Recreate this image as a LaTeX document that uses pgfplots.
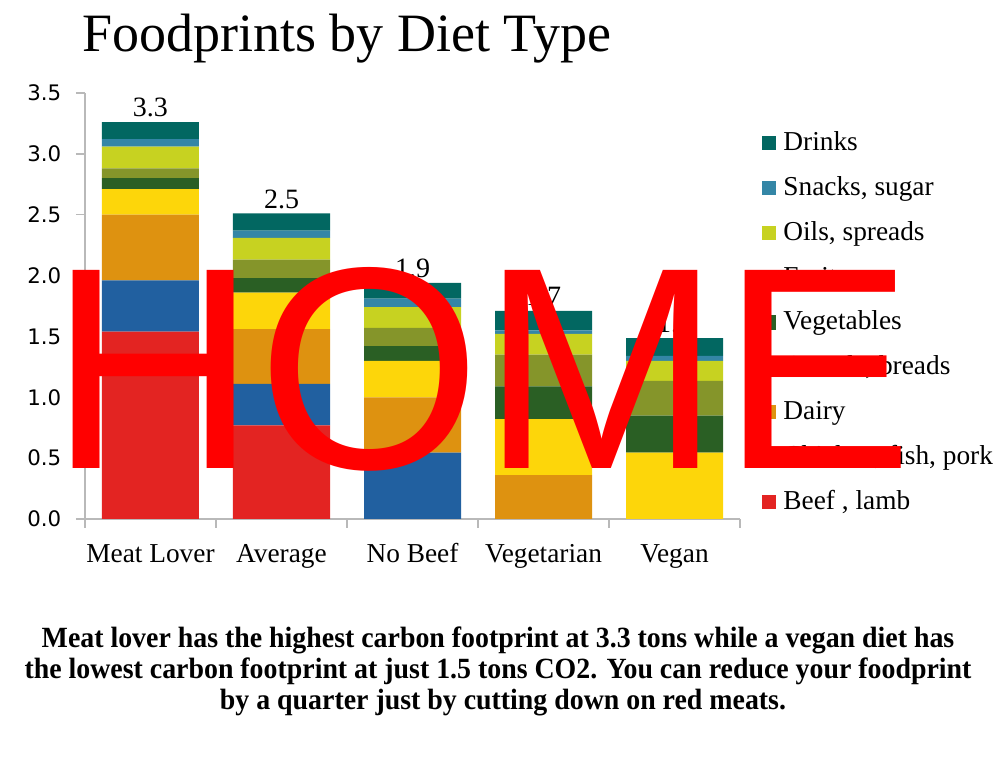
\documentclass[border=0pt]{standalone}
\usepackage{pgfplots}
\pgfplotsset{compat=1.18}
\usepackage{pgfplotstable}
\usepackage{fontspec}
\setmainfont{Liberation Serif}
\newfontfamily\tickfont{DejaVu Sans}
\newfontfamily\homefont{Liberation Sans}
\newfontfamily\capfont[FakeStretch=0.95]{Liberation Serif}

\definecolor{cBeef}{RGB}{227,36,34}
\definecolor{cChicken}{RGB}{33,96,160}
\definecolor{cDairy}{RGB}{222,146,16}
\definecolor{cCereals}{RGB}{253,214,10}
\definecolor{cVeg}{RGB}{42,95,36}
\definecolor{cFruit}{RGB}{133,149,42}
\definecolor{cOils}{RGB}{199,210,33}
\definecolor{cSnacks}{RGB}{52,134,166}
\definecolor{cDrinks}{RGB}{2,103,97}
\definecolor{axisgray}{RGB}{185,185,185}

\pgfplotstableread{
x beef chicken dairy cereals veg fruit oils snacks drinks
0 1.54 0.42 0.54 0.21 0.09 0.08 0.18 0.06 0.14
1 0.77 0.34 0.45 0.30 0.12 0.15 0.18 0.06 0.14
2 0 0.545 0.455 0.30 0.12 0.15 0.17 0.07 0.13
3 0 0 0.36 0.46 0.27 0.26 0.17 0.03 0.16
4 0 0 0 0.545 0.305 0.285 0.165 0.04 0.146
}\diet

\begin{document}
\begin{tikzpicture}
\begin{scope}[x=0.75pt,y=-0.75pt,shift={(-85,-519)}]
\path[use as bounding box] (0,0) rectangle (1000,778);
\end{scope}
\begin{axis}[
  at={(0,0)}, anchor=south west, scale only axis,
  width=491.25pt, height=319.5pt,
  ybar stacked, bar width=72.75pt,
  xmin=-0.5, xmax=4.5, ymin=0, ymax=3.5,
  clip=false,
  axis x line*=bottom, axis y line*=left,
  axis line style={draw=axisgray, line width=1pt},
  tick style={draw=axisgray, line width=1pt},
  tick align=outside, major tick length=6.75pt,
  xtick={-0.5,0.5,1.5,2.5,3.5,4.5}, xticklabels={},
  extra x ticks={0,1,2,3,4},
  extra x tick labels={Meat Lover,Average,No Beef,Vegetarian,Vegan},
  extra x tick style={major tick length=0pt},
  xticklabel style={font=\fontsize{20.5}{24}\selectfont, anchor=base, yshift=-33pt},
  ytick={0,0.5,1,1.5,2,2.5,3,3.5},
  yticklabel style={font=\tickfont\fontsize{16}{18}\selectfont, xshift=-7.5pt,
    /pgf/number format/fixed, /pgf/number format/fixed zerofill,
    /pgf/number format/precision=1},
  /pgf/number format/assume math mode=true,
  reverse legend,
  legend style={draw=none, fill=none, inner sep=0pt, outer sep=0pt,
    at={(axis description cs:1.0331,0.912)}, anchor=north west,
    font=\fontsize{20.5}{24}\selectfont, row sep=13.65pt, column sep=5.8pt,
    nodes={inner sep=0pt, text height=15pt, text depth=5pt}},
  legend cell align=left,
  legend image code/.code={\fill[#1,draw=none] (0pt,-4.7pt) rectangle (10.5pt,6pt);},
]
\addplot[fill=cBeef, draw=none] table[x=x,y=beef]{\diet};
\addlegendentry{Beef , lamb}
\addplot[fill=cChicken, draw=none] table[x=x,y=chicken]{\diet};
\addlegendentry{Chicken, fish, pork}
\addplot[fill=cDairy, draw=none] table[x=x,y=dairy]{\diet};
\addlegendentry{Dairy}
\addplot[fill=cCereals, draw=none] table[x=x,y=cereals]{\diet};
\addlegendentry{Cereals, breads}
\addplot[fill=cVeg, draw=none] table[x=x,y=veg]{\diet};
\addlegendentry{Vegetables}
\addplot[fill=cFruit, draw=none] table[x=x,y=fruit]{\diet};
\addlegendentry{Fruit}
\addplot[fill=cOils, draw=none] table[x=x,y=oils]{\diet};
\addlegendentry{Oils, spreads}
\addplot[fill=cSnacks, draw=none] table[x=x,y=snacks]{\diet};
\addlegendentry{Snacks, sugar}
\addplot[fill=cDrinks, draw=none] table[x=x,y=drinks]{\diet};
\addlegendentry{Drinks}
\node[anchor=base, inner sep=0pt, font=\fontsize{21}{24}\selectfont, yshift=4pt] at (axis cs:0,3.26) {3.3};
\node[anchor=base, inner sep=0pt, font=\fontsize{21}{24}\selectfont, yshift=4pt] at (axis cs:1,2.51) {2.5};
\node[anchor=base, inner sep=0pt, font=\fontsize{21}{24}\selectfont, yshift=4pt] at (axis cs:2,1.94) {1.9};
\node[anchor=base, inner sep=0pt, font=\fontsize{21}{24}\selectfont, yshift=4pt] at (axis cs:3,1.71) {1.7};
\node[anchor=base, inner sep=0pt, font=\fontsize{21}{24}\selectfont, yshift=4pt] at (axis cs:4,1.49) {1.5};
\end{axis}
\begin{scope}[x=0.75pt,y=-0.75pt,shift={(-85,-519)}]
\node[anchor=base west, inner sep=0pt, font=\fontsize{40.5}{44}\selectfont] at (82,52) {Foodprints by Diet Type};
\node[anchor=base, inner sep=0pt, font=\capfont\bfseries\fontsize{22}{26}\selectfont] at (498,647) {Meat lover has the highest carbon footprint at 3.3 tons while a vegan diet has};
\node[anchor=base, inner sep=0pt, font=\capfont\bfseries\fontsize{22}{26}\selectfont] at (498,678) {the lowest carbon footprint at just 1.5 tons CO2. You can reduce your foodprint};
\node[anchor=base, inner sep=0pt, font=\capfont\bfseries\fontsize{22}{26}\selectfont] at (503,709) {by a quarter just by cutting down on red meats.};
\node[anchor=base west, inner sep=0pt, text=red, font=\homefont\fontsize{216}{216}\selectfont] at (49,469) {HOME};
\end{scope}
\end{tikzpicture}
\end{document}
